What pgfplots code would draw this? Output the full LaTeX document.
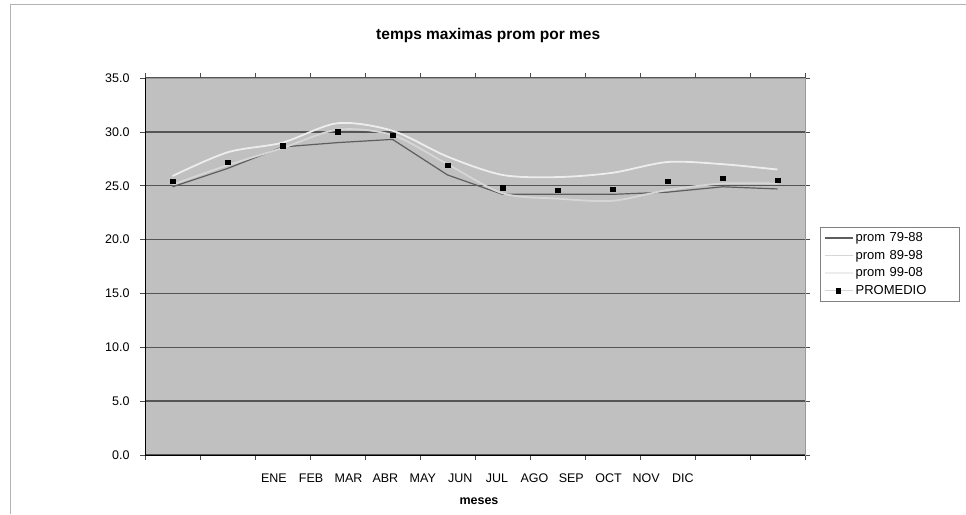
\documentclass[border=0pt]{standalone}
\usepackage{fontspec}
\setmainfont{Liberation Sans}
\usepackage{pgfplots}
\pgfplotsset{compat=1.18}
\definecolor{plotbg}{HTML}{C0C0C0}
\definecolor{cdark}{HTML}{5E5E5E}
\definecolor{clight}{HTML}{D6D6D6}
\definecolor{cwhite}{HTML}{EDEDED}
\definecolor{cgrid}{HTML}{555555}
\pgfplotstableread{
x a b c p
1 24.9 25.1 25.9 25.4
2 26.6 26.9 28.1 27.2
3 28.6 28.5 29.0 28.7
4 29.0 30.2 30.8 30.0
5 29.3 29.7 30.1 29.7
6 26.0 27.0 27.7 26.9
7 24.2 24.3 26.0 24.8
8 24.2 23.8 25.8 24.6
9 24.2 23.6 26.2 24.7
10 24.4 24.6 27.2 25.4
11 24.9 25.2 27.0 25.7
12 24.7 25.2 26.5 25.5
}\datatable
\begin{document}
\begin{tikzpicture}[x=1pt,y=1pt]
\path[use as bounding box] (0,0) rectangle (966,514);
\draw[gray!60, line width=1pt] (10,0) -- (10,509.5) -- (966,509.5);
\begin{axis}[
  at={(145pt,59pt)}, anchor=south west,
  scale only axis, width=660pt, height=377pt,
  xmin=0.5, xmax=12.5, ymin=0, ymax=35,
  axis background/.style={fill=plotbg},
  axis line style={draw=gray!80},
  font=\fontsize{12.5}{14}\selectfont,
  /pgf/number format/assume math mode=true,
  ytick={0,5,...,35},
  yticklabel style={xshift=-7pt, /pgf/number format/.cd, fixed, fixed zerofill, precision=1},
  ymajorgrids, major grid style={draw=cgrid, line width=1.3pt},
  tick align=outside, major tick length=5pt,
  tick style={black!70, line width=0.6pt},
  xtick={0.5,1.5,...,12.5}, xticklabels={},
  extra x ticks={2.845,3.52,4.20,4.87,5.55,6.23,6.90,7.58,8.25,8.93,9.61,10.28},
  extra x tick labels={ENE,FEB,MAR,ABR,MAY,JUN,JUL,AGO,SEP,OCT,NOV,DIC},
  extra x tick style={major tick length=0pt, grid=none, xticklabel style={yshift=-15pt}},
  title={temps maximas prom por mes},
  title style={at={(axis description cs:0.52,1.097)}, anchor=center, font=\fontsize{15.5}{17}\selectfont\bfseries},
  xlabel={meses},
  xlabel style={at={(axis description cs:0.506,-0.122)}, anchor=center, font=\fontsize{12.5}{14}\selectfont\bfseries},
  legend style={at={(axis description cs:1.023,0.605)}, anchor=north west, draw=gray, fill=white,
    font=\fontsize{13}{15}\selectfont, cells={anchor=west, text width=98pt}, row sep=3pt, inner sep=3.5pt},
  legend image code/.code={\draw[#1] (0pt,0pt) -- (28pt,0pt);},
]
\addplot[cdark, line width=1.2pt, no markers] table[x=x,y=a]{\datatable};
\addlegendentry{prom 79-88}
\addplot[clight, line width=1.8pt, no markers, smooth] table[x=x,y=b]{\datatable};
\addlegendentry{prom 89-98}
\addplot[cwhite, line width=1.8pt, no markers, smooth] table[x=x,y=c]{\datatable};
\addlegendentry{prom 99-08}
\addplot[only marks, mark=square*, mark size=2.2pt, black,
  legend image code/.code={\draw[clight, line width=1pt] (0pt,0pt) -- (28pt,0pt); \fill[black] (11pt,-2.2pt) rectangle (15.4pt,2.2pt);}] table[x=x,y=p]{\datatable};
\addlegendentry{PROMEDIO}
\draw[black, line width=0.8pt] (rel axis cs:0,1) -- (rel axis cs:0,0) -- (rel axis cs:1,0);
\end{axis}
\end{tikzpicture}
\end{document}
